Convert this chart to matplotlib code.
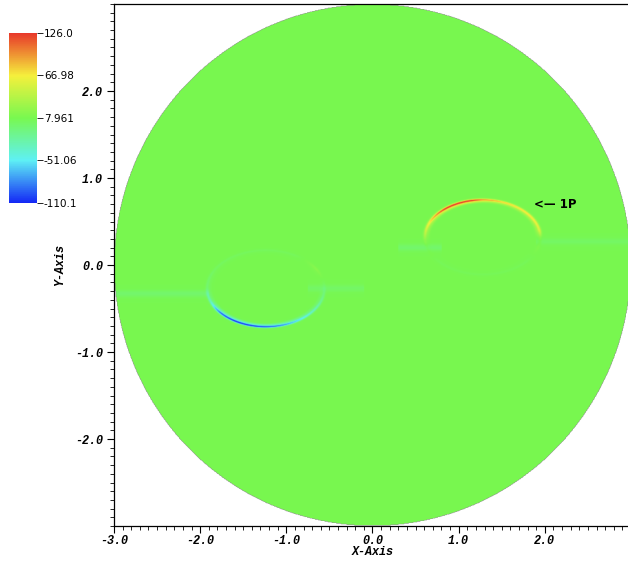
import numpy as np
import matplotlib
matplotlib.use("Agg")
import matplotlib.pyplot as plt
from matplotlib.colors import LinearSegmentedColormap

# colour scale (VisIt "hot"-like)
vmin, vmax = -110.1, 126.0
cbar_ticks = [126.0, 66.98, 7.961, -51.06, -110.1]
cbar_labels = ["126.0", "66.98", "7.961", "-51.06", "-110.1"]
cmap_colors = ["#1428f5", "#5ef0f5", "#78f850", "#f5f03c", "#e8382a"]

# domain
disk_radius = 3.0
base_value = 7.961

# bubbles: centre, semi-axes, ring width
bub_cx = [-1.24, 1.28]
bub_cy = [-0.27, 0.32]
bub_a = [0.68, 0.67]
bub_b = [0.44, 0.43]
bub_w = [0.028, 0.03]

# ring strength read along each rim (angle in degrees -> value offset)
left_ang = [0, 30, 60, 90, 120, 150, 180, 200, 220, 240, 260, 280, 300, 320, 340, 360]
left_val = [-8, 8, -4, -5, -5, -6, -12, -40, -100, -118, -115, -100, -70, -45, -25, -8]
right_ang = [0, 10, 30, 50, 70, 90, 100, 115, 130, 145, 160, 175, 185, 220, 270, 320, 360]
right_val = [8, 45, 60, 62, 68, 90, 118, 125, 118, 85, 55, 30, 8, -3, -3, -3, 8]

# faint wake streaks: x start, x end, y, amplitude
wake_x0 = [-3.0, -0.75, 0.3, 1.9]
wake_x1 = [-1.9, -0.1, 0.8, 3.0]
wake_y = [-0.33, -0.27, 0.2, 0.27]
wake_amp = [-10, -8, -10, -7]

# build the field
n = 800
xs = np.linspace(-3, 3, n)
ys = np.linspace(-3, 3, n)
X, Y = np.meshgrid(xs, ys)
F = np.full_like(X, base_value)

rims = [(left_ang, left_val), (right_ang, right_val)]
for i in range(2):
    u = (X - bub_cx[i]) / bub_a[i]
    v = (Y - bub_cy[i]) / bub_b[i]
    rho = np.sqrt(u ** 2 + v ** 2)
    th = np.degrees(np.arctan2(v, u)) % 360
    amp = np.interp(th, rims[i][0], rims[i][1])
    F += amp * np.exp(-((rho - 1) / bub_w[i]) ** 2)
    F += 0.25 * amp * np.exp(-((rho - 0.95) / bub_w[i]) ** 2)

for i in range(len(wake_y)):
    mx = (X > wake_x0[i]) & (X < wake_x1[i])
    F += mx * wake_amp[i] * np.exp(-((Y - wake_y[i]) / 0.04) ** 2)

F = np.ma.masked_where(X ** 2 + Y ** 2 > disk_radius ** 2, F)

cmap = LinearSegmentedColormap.from_list("hot_visit", cmap_colors)

fig = plt.figure(figsize=(6.28, 5.61), dpi=100)
ax = fig.add_axes([114 / 628, 35 / 561, 517 / 628, 522 / 561])
im = ax.imshow(F, extent=[-3, 3, -3, 3], origin="lower", cmap=cmap,
               vmin=vmin, vmax=vmax, interpolation="bilinear", aspect="auto")
ax.set_xlim(-3, 3)
ax.set_ylim(-3, 3)

tick_font = dict(family="Liberation Mono", weight="bold", style="italic", size=8.5)
ax.set_xticks([-3.0, -2.0, -1.0, 0.0, 1.0, 2.0])
ax.set_yticks([-2.0, -1.0, 0.0, 1.0, 2.0])
ax.set_xticklabels(["-3.0", "-2.0", "-1.0", "0.0", "1.0", "2.0"], fontdict=tick_font)
ax.set_yticklabels(["-2.0", "-1.0", "0.0", "1.0", "2.0"], fontdict=tick_font)
ax.set_xticks(np.arange(-3, 3.01, 0.1), minor=True)
ax.set_yticks(np.arange(-3, 3.01, 0.1), minor=True)
ax.tick_params(which="major", length=5, width=0.8, direction="out")
ax.tick_params(which="minor", length=3, width=0.6, direction="out")
ax.tick_params(axis="x", which="major", pad=1.5)
ax.tick_params(axis="y", which="major", pad=3)
ax.tick_params(axis="both", which="both", top=False, right=False)
for s in ax.spines.values():
    s.set_linewidth(0.9)

ax.set_xlabel("X-Axis", fontdict=tick_font)
ax.set_ylabel("Y-Axis", fontdict=tick_font)
ax.xaxis.set_label_coords(0.5, -0.039)
ax.yaxis.set_label_coords(-0.093, 0.5)

ax.text(1.88, 0.69, "<\u2014 1P", fontsize=8.5, weight="bold",
        ha="left", va="center", color="black")

cax = fig.add_axes([9 / 628, (561 - 203) / 561, 28 / 628, 170 / 561])
cb = fig.colorbar(im, cax=cax, ticks=cbar_ticks)
cb.ax.set_yticklabels(cbar_labels, fontsize=7.5)
cb.ax.tick_params(length=4, width=0.6, pad=1)
cb.outline.set_visible(False)

fig.savefig("out.png", dpi=100)
